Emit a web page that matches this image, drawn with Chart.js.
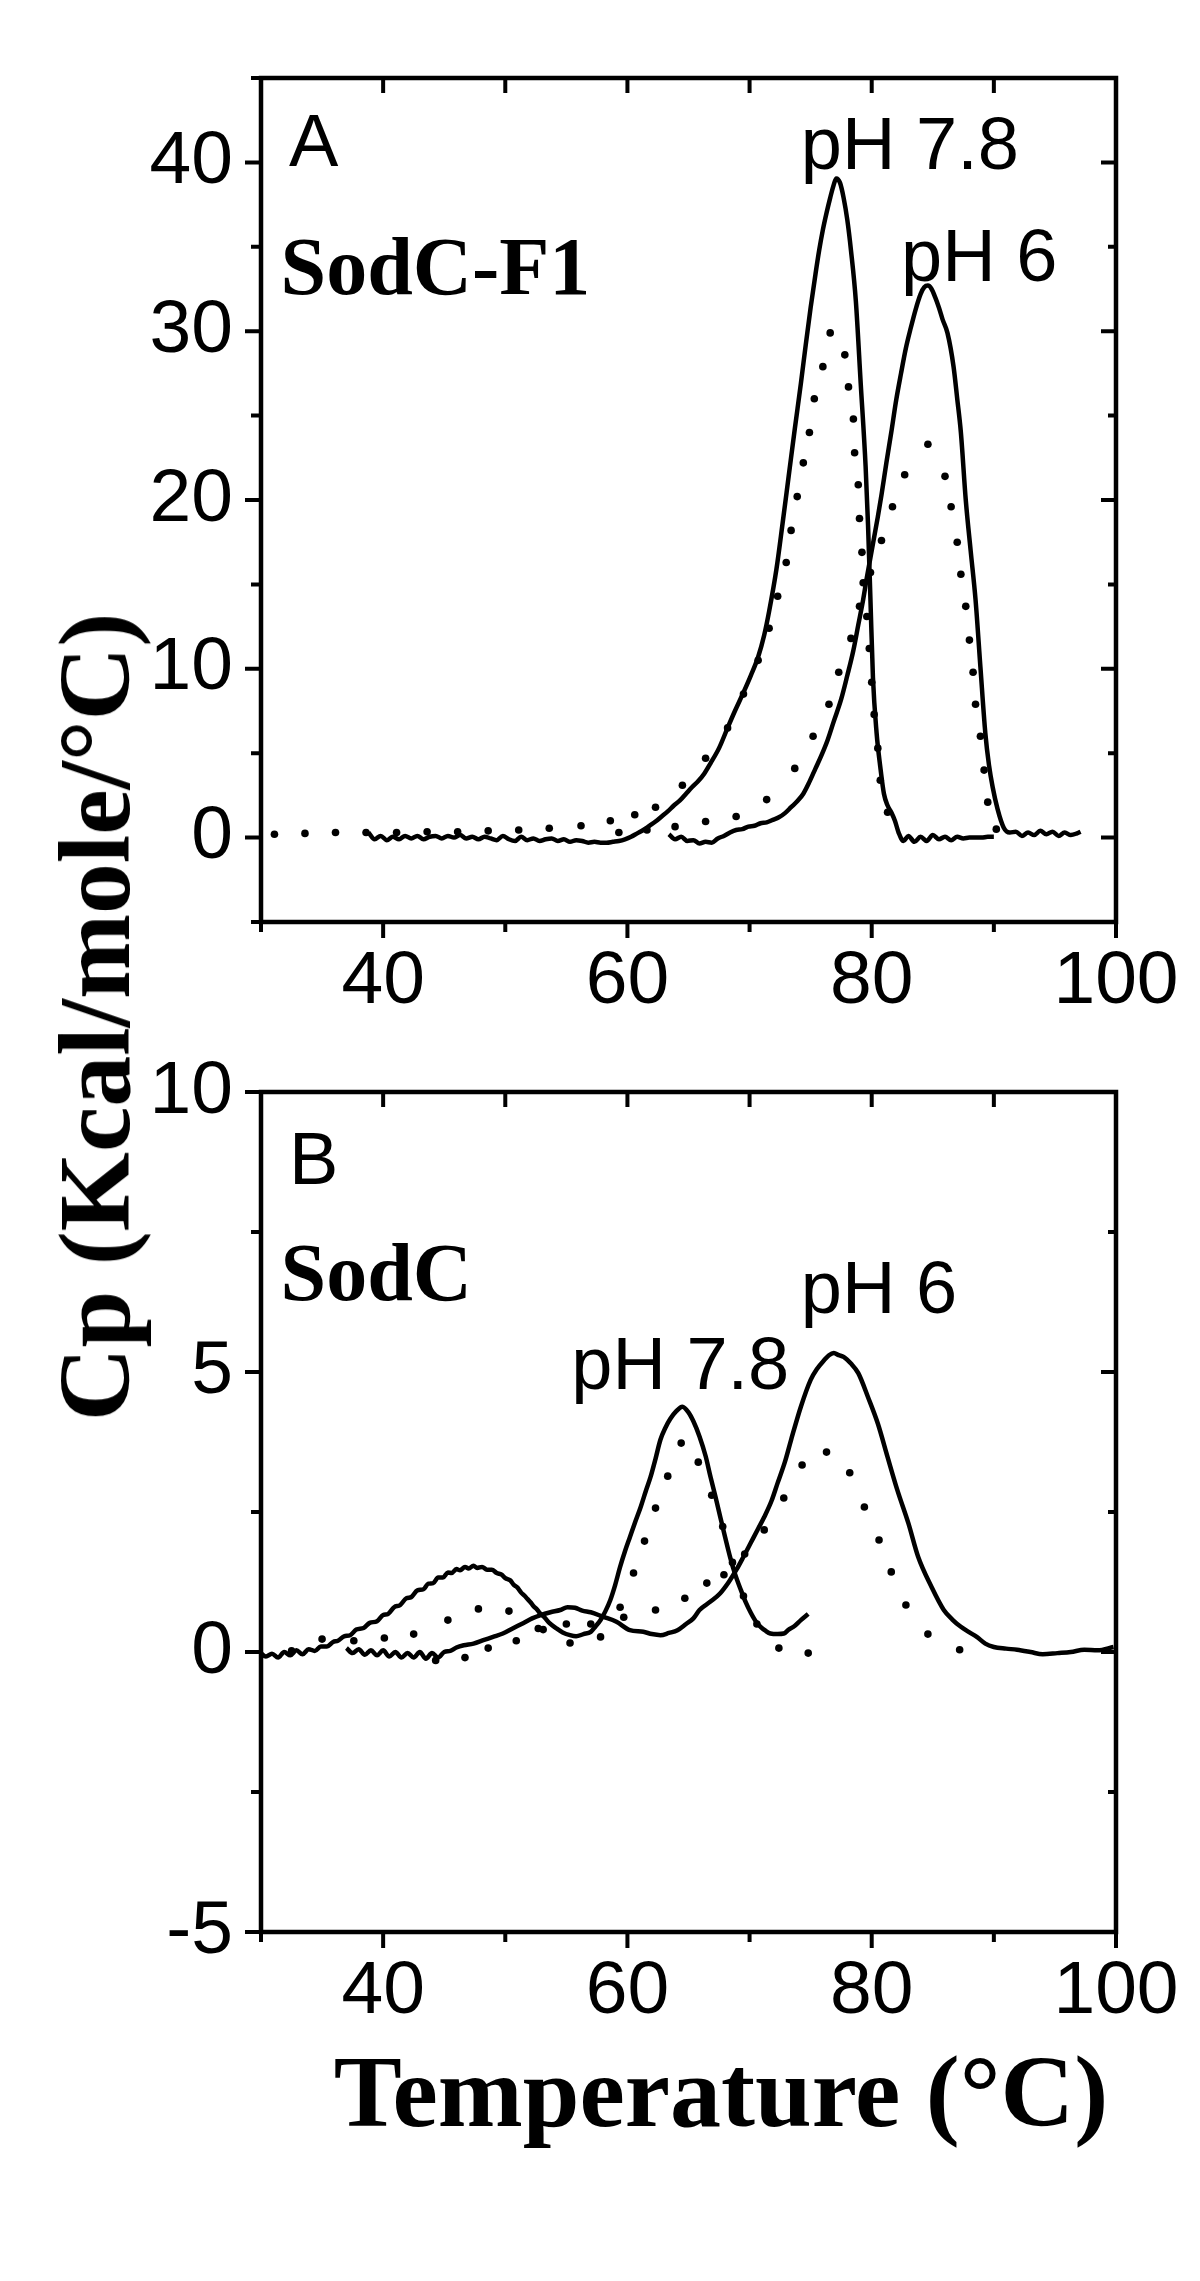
<!DOCTYPE html>
<html>
<head>
<meta charset="utf-8">
<script src="https://cdn.jsdelivr.net/npm/chart.js@4.4.0/dist/chart.umd.min.js"></script>
<style>
  body { margin: 0; background: #fff; width: 1200px; height: 2281px; position: relative; overflow: hidden; }
  canvas { position: absolute; left: 0; }
  #chartA { top: 0; }
  #chartB { top: 1010px; }
  .axis-title {
    position: absolute;
    font-family: 'Liberation Serif', 'Times New Roman', serif;
    font-weight: bold;
    font-size: 102px;
    line-height: 1;
    white-space: nowrap;
    color: #000;
  }
  #yTitle { left: 95px; top: 1017px; transform: translate(-50%, -50%) rotate(-90deg); }
  #xTitle { left: 721px; top: 2041px; transform: translateX(-50%); }
</style>
</head>
<body>
<canvas id="chartA" width="1200" height="1010"></canvas>
<canvas id="chartB" width="1200" height="1010"></canvas>
<div class="axis-title" id="yTitle">Cp (Kcal/mole/°C)</div>
<div class="axis-title" id="xTitle">Temperature (°C)</div>

<script>
// ---- Panel A: SodC-F1 ----
// pH 7.8, measured trace
const tempA78 = [
  38.8, 39.3, 39.8, 40.3, 40.8, 41.3, 41.8, 42.3, 42.8, 43.3,
  43.8, 44.3, 44.8, 45.3, 45.8, 46.3, 46.8, 47.3, 47.8, 48.3,
  48.8, 49.3, 49.8, 50.3, 50.8, 51.3, 51.8, 52.3, 52.8, 53.3,
  53.8, 54.3, 54.8, 55.3, 55.8, 56.3, 56.8, 57.3, 57.8, 58.3,
  58.8, 59.3, 59.8, 60.3, 60.8, 61.3, 61.8, 62.3, 62.8, 63.3,
  63.8, 64.3, 64.8, 65.3, 65.8, 66.3, 66.8, 67.5, 68.2, 68.8,
  69.5, 70.1, 70.7, 71.2, 71.6, 72.2, 72.7, 73.2, 73.7, 74.2,
  74.6, 75.0, 75.4, 75.7, 76.0, 76.3, 76.6, 76.9, 77.1, 77.4,
  77.7, 78.0, 78.3, 78.7, 79.1, 79.5, 79.7, 79.9, 80.1, 80.4,
  80.7, 81.0, 81.3, 81.6, 81.9, 82.2, 82.6, 83.0, 83.5, 84.0,
  84.5, 85.0, 85.5, 86.0, 86.5, 87.0, 87.5, 88.0, 88.5, 89.0,
  89.5, 90.0
];
const cpA78 = [
  0.3, -0.1, 0.1, -0.15, 0.05, -0.1, 0.1, -0.05, 0.1, -0.1,
  0.05, 0.1, -0.05, 0.1, 0.0, 0.15, -0.05, 0.05, -0.1, 0.05,
  -0.05, -0.15, 0.1, -0.1, -0.2, 0.05, -0.15, -0.05, -0.2, -0.1,
  -0.05, -0.2, -0.1, -0.25, -0.15, -0.2, -0.3, -0.25, -0.3, -0.3,
  -0.25, -0.2, -0.1, 0.05, 0.25, 0.45, 0.7, 0.95, 1.25, 1.55,
  1.9, 2.2, 2.6, 3.0, 3.35, 3.8, 4.4, 5.3, 6.5, 7.5,
  8.6, 9.6, 10.7, 12.0, 13.4, 15.9, 18.6, 21.4, 24.2, 26.9,
  29.2, 31.4, 33.4, 34.8, 36.0, 37.0, 37.9, 38.7, 39.05, 38.8,
  37.9, 36.6, 34.8, 31.8, 26.9, 22.0, 18.5, 14.0, 9.5, 6.2,
  4.2, 2.6, 1.9, 1.5, 1.0, 0.3, -0.2, 0.1, -0.25, 0.05,
  -0.2, 0.15, -0.1, 0.05, -0.15, 0.05, -0.05, 0.0, 0.0, 0.0,
  0.05, 0.05
];
// pH 7.8, fitted curve (dotted)
const tempA78Fit = [
  31.1, 33.6, 36.1, 38.6, 41.1, 43.6, 46.1, 48.6, 51.1, 53.6,
  56.2, 58.6, 60.6, 62.3, 64.5, 66.4, 68.2, 69.5, 70.7, 71.6,
  72.3, 73.0, 73.4, 73.9, 74.4, 74.9, 75.3, 76.0, 76.6, 77.8,
  78.1, 78.5, 78.6, 78.9, 79.0, 79.2, 79.3, 79.6, 79.8, 80.0,
  80.2, 80.5, 80.7, 81.3
];
const cpA78Fit = [
  0.2, 0.25, 0.3, 0.3, 0.3, 0.35, 0.35, 0.4, 0.45, 0.55,
  0.7, 1.0, 1.35, 1.8, 3.1, 4.7, 6.5, 8.5, 10.5, 12.4,
  14.3, 16.3, 18.2, 20.2, 22.2, 24.0, 26.0, 27.9, 29.9, 28.6,
  26.7, 24.8, 22.8, 20.9, 18.9, 16.9, 15.1, 13.1, 11.2, 9.2,
  7.3, 5.3, 3.4, 1.5
];
// pH 6, measured trace
const tempA6 = [
  63.4, 63.9, 64.4, 64.9, 65.4, 65.9, 66.4, 66.9, 67.4, 67.9,
  68.4, 68.9, 69.4, 69.9, 70.4, 70.9, 71.4, 71.9, 72.4, 72.9,
  73.4, 73.9, 74.4, 74.9, 75.4, 75.9, 76.4, 76.9, 77.5, 78.0,
  78.5, 78.9, 79.3, 79.6, 79.9, 80.2, 80.5, 80.8, 81.2, 81.6,
  82.0, 82.4, 82.8, 83.2, 83.6, 84.0, 84.3, 84.6, 84.9, 85.2,
  85.5, 85.8, 86.2, 86.7, 87.0, 87.3, 87.7, 88.1, 88.5, 88.9,
  89.3, 89.6, 89.9, 90.3, 90.8, 91.3, 91.8, 92.3, 92.8, 93.3,
  93.8, 94.3, 94.8, 95.3, 95.8, 96.3, 96.8, 97.1
];
const cpA6 = [
  0.2, -0.1, 0.05, -0.2, -0.15, -0.35, -0.25, -0.3, -0.05, 0.1,
  0.3, 0.45, 0.5, 0.65, 0.7, 0.85, 0.9, 1.05, 1.2, 1.45,
  1.8, 2.15, 2.6, 3.3, 4.1, 4.9, 5.8, 6.9, 8.2, 9.6,
  11.1, 12.6, 14.1, 15.4, 16.6, 17.8, 19.0, 20.3, 22.2, 24.0,
  25.9, 27.5, 29.0, 30.2, 31.3, 32.2, 32.6, 32.7, 32.5, 32.0,
  31.4, 30.7, 29.9, 27.9, 26.0, 24.0, 20.0, 17.0, 14.1, 10.1,
  6.2, 4.3, 3.0, 1.7, 0.6, 0.3, 0.35, 0.1, 0.3, 0.15,
  0.4, 0.2, 0.35, 0.1, 0.3, 0.15, 0.25, 0.35
];
// pH 6, fitted curve (dotted)
const tempA6Fit = [
  59.3, 61.6, 63.9, 66.4, 68.9, 71.4, 73.7, 75.2, 76.5, 77.3,
  78.3, 79.0, 79.9, 80.8, 81.7, 82.7, 84.6, 86.0, 86.5, 87.0,
  87.3, 87.7, 88.0, 88.3, 88.5, 88.9, 89.2, 89.5, 90.2
];
const cpA6Fit = [
  0.3, 0.45, 0.65, 0.95, 1.25, 2.25, 4.1, 6.0, 7.9, 9.8,
  11.8, 13.7, 15.7, 17.6, 19.6, 21.5, 23.3, 21.4, 19.6, 17.5,
  15.6, 13.7, 11.7, 9.8, 7.9, 6.0, 4.0, 2.1, 0.5
];

// ---- Panel B: SodC ----
const tempB78 = [
  29.9, 30.4, 30.9, 31.4, 31.9, 32.4, 32.9, 33.4, 33.9, 34.4,
  34.9, 35.4, 35.9, 36.3, 36.8, 37.3, 37.8, 38.4, 38.9, 39.5,
  40.0, 40.4, 40.9, 41.4, 41.9, 42.3, 42.8, 43.3, 43.7, 44.1,
  44.5, 44.9, 45.3, 45.6, 46.0, 46.3, 46.7, 47.0, 47.4, 47.7,
  48.1, 48.5, 48.9, 49.3, 49.7, 50.0, 50.4, 50.7, 51.0, 51.3,
  51.6, 51.8, 52.1, 52.3, 52.6, 52.8, 53.2, 53.6, 54.2, 54.7,
  55.3, 55.8, 56.4, 57.0, 57.4, 57.8, 58.2, 58.6, 59.0, 59.4,
  59.8, 60.2, 60.6, 61.1, 61.5, 61.9, 62.3, 62.7, 63.1, 63.5,
  64.0, 64.5, 65.0, 65.4, 65.9, 66.4, 66.8, 67.2, 67.6, 68.0,
  68.4, 68.8, 69.3, 69.7, 70.1, 70.5, 70.9, 71.3, 71.7, 72.3,
  72.8, 73.2, 73.6, 74.2, 74.8
];
const cpB78 = [
  0.0, -0.08, -0.03, -0.1, 0.0, -0.06, 0.03, -0.04, 0.05, 0.02,
  0.1, 0.1, 0.18, 0.2, 0.28, 0.3, 0.4, 0.43, 0.52, 0.55,
  0.66, 0.68, 0.8, 0.84, 0.96, 0.98, 1.1, 1.12, 1.22, 1.23,
  1.33, 1.33, 1.42, 1.41, 1.48, 1.46, 1.52, 1.49, 1.54, 1.5,
  1.52, 1.47, 1.47, 1.41, 1.38, 1.32, 1.28, 1.2, 1.15, 1.06,
  1.0, 0.95, 0.88, 0.82, 0.76, 0.7, 0.62, 0.52, 0.42, 0.35,
  0.3, 0.28, 0.32, 0.36, 0.46, 0.57, 0.73, 0.93, 1.2, 1.52,
  1.8, 2.05, 2.3, 2.6, 2.87, 3.13, 3.45, 3.79, 4.0, 4.16,
  4.3, 4.38, 4.28, 4.12, 3.85, 3.5, 3.13, 2.78, 2.41, 2.05,
  1.7, 1.4, 1.1, 0.88, 0.7, 0.55, 0.45, 0.38, 0.33, 0.32,
  0.33, 0.4, 0.45, 0.57, 0.68
];
const tempB78Fit = [
  32.5, 35.0, 37.6, 40.1, 42.5, 45.3, 47.8, 50.3, 52.7, 55.3,
  57.8, 59.4, 60.5, 61.4, 62.3, 63.3, 64.4, 65.8, 66.9, 67.8,
  68.6, 69.5, 70.6, 72.4, 74.8
];
const cpB78Fit = [
  0.02, 0.23, 0.2, 0.25, 0.32, 0.57, 0.77, 0.73, 0.42, 0.16,
  0.27, 0.8, 1.41, 1.98, 2.57, 3.14, 3.73, 3.39, 2.8, 2.24,
  1.6, 1.0, 0.5, 0.07, -0.02
];
const tempB6 = [
  37.0, 37.5, 38.0, 38.5, 39.0, 39.5, 40.0, 40.5, 41.0, 41.5,
  42.0, 42.5, 43.0, 43.5, 44.0, 44.5, 45.0, 45.5, 46.0, 46.6,
  47.4, 48.2, 49.0, 49.8, 50.6, 51.5, 52.2, 52.9, 53.7, 54.5,
  55.1, 55.7, 56.3, 57.0, 58.0, 59.1, 60.2, 61.3, 62.0, 62.7,
  63.4, 64.1, 64.8, 65.4, 65.9, 66.8, 67.6, 68.3, 68.9, 69.5,
  70.1, 70.7, 71.2, 71.8, 72.3, 72.9, 73.4, 74.2, 75.0, 75.5,
  76.1, 76.5, 76.9, 77.3, 77.7, 78.3, 78.9, 79.7, 80.5, 81.3,
  82.1, 83.0, 83.8, 84.9, 85.9, 86.6, 87.3, 88.0, 88.6, 89.3,
  90.0, 91.0, 91.9, 93.0, 94.0, 95.2, 96.3, 97.4, 98.5, 99.8
];
const cpB6 = [
  0.07, -0.02, 0.05, -0.05, 0.03, -0.06, 0.03, -0.08, 0.0, -0.1,
  -0.02, -0.1, 0.0, -0.12, -0.02, -0.1, 0.0, 0.02, 0.08, 0.12,
  0.15, 0.21, 0.27, 0.33, 0.42, 0.52, 0.6, 0.66, 0.71, 0.75,
  0.8, 0.79, 0.74, 0.71, 0.63, 0.54, 0.39, 0.36, 0.32, 0.3,
  0.34, 0.39, 0.5, 0.6, 0.75, 0.9, 1.05, 1.25, 1.46, 1.7,
  1.95, 2.2, 2.41, 2.7, 3.02, 3.4, 3.79, 4.38, 4.86, 5.05,
  5.21, 5.3, 5.34, 5.3, 5.27, 5.15, 4.98, 4.55, 4.08, 3.48,
  2.89, 2.3, 1.7, 1.16, 0.75, 0.58, 0.45, 0.35, 0.27, 0.15,
  0.09, 0.06, 0.04, 0.0, -0.04, -0.02, 0.0, 0.04, 0.03, 0.09
];
const tempB6Fit = [
  44.3, 46.7, 48.6, 50.9, 53.1, 55.0, 57.0, 59.7, 62.3, 64.7,
  66.5, 67.9, 69.6, 71.2, 72.8, 74.3, 76.3, 78.2, 79.4, 80.6,
  81.6, 82.8, 84.6, 87.2
];
const cpB6Fit = [
  -0.15, -0.1, 0.07, 0.2, 0.4, 0.5, 0.5, 0.62, 0.75, 0.96,
  1.23, 1.38, 1.75, 2.18, 2.75, 3.34, 3.57, 3.2, 2.59, 2.0,
  1.43, 0.84, 0.32, 0.04
];

// tick labels that are printed
const xTickLabels = [40, 60, 80, 100];
const yTickLabelsA = [0, 10, 20, 30, 40];
const yTickLabelsB = [-5, 0, 5, 10];

const sansFont = "'Liberation Sans', Arial, Helvetica, sans-serif";
const serifFont = "'Liberation Serif', 'Times New Roman', serif";

// text inside the panels, anchored in data units
const notesA = [
  { text: 'A', x: 32.3, y: 39.8, font: '74px ' + sansFont },
  { text: 'SodC-F1', x: 31.6, y: 32.2, font: 'bold 82px ' + serifFont },
  { text: 'pH 7.8', x: 74.2, y: 39.6, font: '74px ' + sansFont },
  { text: 'pH 6', x: 82.4, y: 33.0, font: '74px ' + sansFont }
];
const notesB = [
  { text: 'B', x: 32.3, y: 8.36, font: '74px ' + sansFont },
  { text: 'SodC', x: 31.6, y: 6.29, font: 'bold 82px ' + serifFont },
  { text: 'pH 7.8', x: 55.4, y: 4.7, font: '74px ' + sansFont },
  { text: 'pH 6', x: 74.2, y: 6.05, font: '74px ' + sansFont }
];

function toPoints(xs, ys) {
  return xs.map((x, i) => ({ x: x, y: ys[i] }));
}

// box frame with Origin-style ticks: outward on left/bottom, inward on top/right
const frameTicks = {
  id: 'frameTicks',
  afterDraw(chart, args, opts) {
    const ctx = chart.ctx;
    const a = chart.chartArea;
    const xs = chart.scales.x;
    const ys = chart.scales.y;
    ctx.save();
    ctx.strokeStyle = '#000';
    ctx.lineWidth = 4.5;
    ctx.lineCap = 'square';
    ctx.strokeRect(a.left, a.top, a.right - a.left, a.bottom - a.top);
    ctx.lineCap = 'butt';
    ctx.lineWidth = 4;
    ctx.beginPath();
    xs.ticks.forEach(t => {
      const px = xs.getPixelForValue(t.value);
      const major = t.value % 20 === 0;
      ctx.moveTo(px, a.bottom);
      ctx.lineTo(px, a.bottom + (major ? 16 : 10));
      if (t.value > xs.min && t.value < xs.max) {
        ctx.moveTo(px, a.top);
        ctx.lineTo(px, a.top + 15);
      }
    });
    ys.ticks.forEach(t => {
      const py = ys.getPixelForValue(t.value);
      const major = Math.abs(t.value % opts.yMajor) < 1e-6;
      ctx.moveTo(a.left, py);
      ctx.lineTo(a.left - (major ? 16 : 10), py);
      if (t.value > ys.min && t.value < ys.max) {
        ctx.moveTo(a.right, py);
        ctx.lineTo(a.right - (major ? 15 : 8), py);
      }
    });
    ctx.stroke();
    ctx.restore();
  }
};

const panelNotes = {
  id: 'panelNotes',
  afterDraw(chart, args, opts) {
    const ctx = chart.ctx;
    ctx.save();
    ctx.fillStyle = '#000';
    ctx.textAlign = 'left';
    ctx.textBaseline = 'alphabetic';
    opts.notes.forEach(n => {
      ctx.font = n.font;
      ctx.fillText(n.text, chart.scales.x.getPixelForValue(n.x), chart.scales.y.getPixelForValue(n.y));
    });
    ctx.restore();
  }
};

function solid(points) {
  return {
    data: points,
    showLine: true,
    borderColor: '#000',
    borderWidth: 4.5,
    pointRadius: 0,
    cubicInterpolationMode: 'monotone'
  };
}

function dotted(points) {
  return {
    data: points,
    showLine: false,
    pointRadius: 3.8,
    pointBackgroundColor: '#000',
    pointBorderWidth: 0
  };
}

function makePanel(canvasId, datasets, yMin, yMax, yStep, yMajor, yLabels, padTop, notes) {
  const tickFont = { family: sansFont, size: 75 };
  return new Chart(document.getElementById(canvasId), {
    type: 'scatter',
    data: { datasets: datasets },
    options: {
      responsive: false,
      animation: false,
      devicePixelRatio: 1,
      layout: { padding: { top: padTop, right: 84, bottom: 0, left: 0 } },
      plugins: {
        legend: { display: false },
        tooltip: { enabled: false },
        frameTicks: { yMajor: yMajor },
        panelNotes: { notes: notes }
      },
      scales: {
        x: {
          type: 'linear',
          min: 30,
          max: 100,
          grid: { display: false, drawTicks: false },
          border: { display: false },
          ticks: {
            stepSize: 10,
            autoSkip: false,
            maxRotation: 0,
            padding: 15,
            color: '#000',
            font: tickFont,
            callback: v => xTickLabels.includes(v) ? String(v) : ''
          },
          afterFit: s => { s.height = 88; }
        },
        y: {
          type: 'linear',
          min: yMin,
          max: yMax,
          grid: { display: false, drawTicks: false },
          border: { display: false },
          ticks: {
            stepSize: yStep,
            autoSkip: false,
            padding: 28,
            color: '#000',
            font: tickFont,
            callback: v => yLabels.includes(v) ? String(v) : ''
          },
          afterFit: s => { s.width = 261; }
        }
      }
    },
    plugins: [frameTicks, panelNotes]
  });
}

makePanel('chartA', [
  dotted(toPoints(tempA78Fit, cpA78Fit)),
  dotted(toPoints(tempA6Fit, cpA6Fit)),
  solid(toPoints(tempA78, cpA78)),
  solid(toPoints(tempA6, cpA6))
], -5, 45, 5, 10, yTickLabelsA, 78, notesA);

makePanel('chartB', [
  dotted(toPoints(tempB78Fit, cpB78Fit)),
  dotted(toPoints(tempB6Fit, cpB6Fit)),
  solid(toPoints(tempB78, cpB78)),
  solid(toPoints(tempB6, cpB6))
], -5, 10, 2.5, 5, yTickLabelsB, 82, notesB);
</script>
</body>
</html>
